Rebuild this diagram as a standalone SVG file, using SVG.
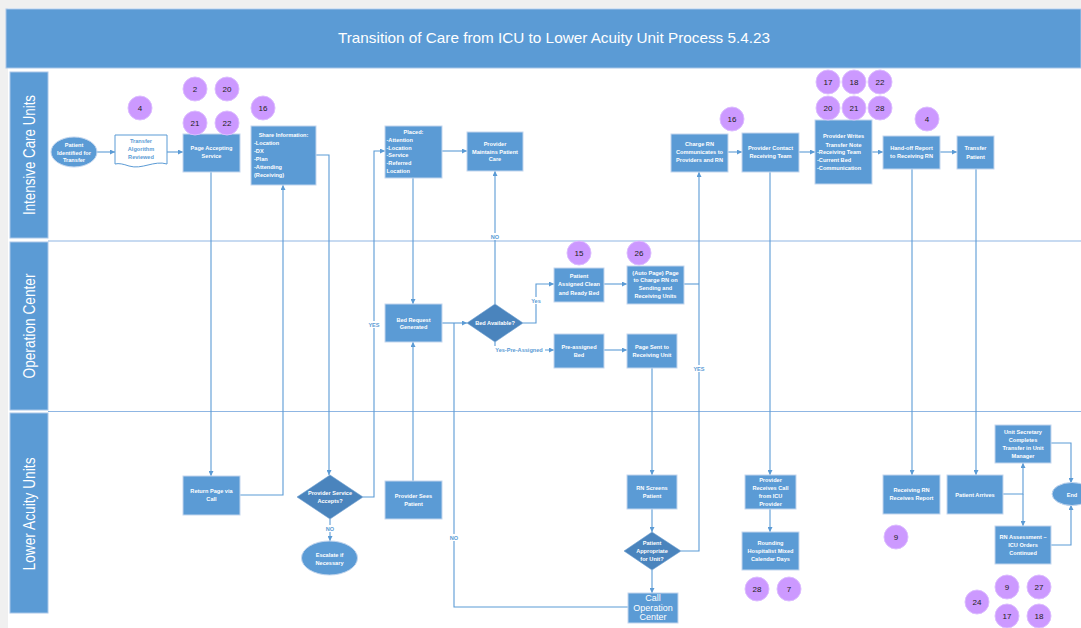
<svg xmlns="http://www.w3.org/2000/svg" width="1081" height="628" viewBox="0 0 1081 628">
<defs>
<marker id="ah" viewBox="0 0 10 10" refX="10" refY="5" markerWidth="5" markerHeight="5" orient="auto" markerUnits="userSpaceOnUse">
<path d="M0,0 L10,5 L0,10 z" fill="#5b9bd5"/>
</marker>
<style>
.lane{fill:#5b9bd5;stroke:#a9c6e8;stroke-width:1}
.laneT{font-family:"Liberation Sans",Arial,sans-serif;font-size:16px;fill:#fff;text-anchor:middle}
.box{fill:#5b9bd5;stroke:#c3d6ee;stroke-width:1}
.dia{fill:#4a84bd;stroke:#6f9fd0;stroke-width:0.6}
.badge{fill:#cc99ff;stroke:#dcbcff;stroke-width:1}
.bt{font-family:"Liberation Sans",Arial,sans-serif;font-size:8px;fill:#222;text-anchor:middle}
.t{font-family:"Liberation Sans",Arial,sans-serif;font-size:5.6px;font-weight:bold;fill:#fff;text-anchor:middle}
.tl{font-family:"Liberation Sans",Arial,sans-serif;font-size:5.6px;font-weight:bold;fill:#fff;text-anchor:start}
.tb{font-family:"Liberation Sans",Arial,sans-serif;font-size:5.6px;font-weight:bold;fill:#5b9bd5;text-anchor:middle}
.c{fill:none;stroke:#5b9bd5;stroke-width:1.1}
.ca{fill:none;stroke:#5b9bd5;stroke-width:1.1;marker-end:url(#ah)}
.ll{fill:none;stroke:#8fb6e3;stroke-width:1.2}
.lbl{font-family:"Liberation Sans",Arial,sans-serif;font-size:5.6px;font-weight:bold;fill:#5b9bd5;text-anchor:middle}
</style>
</defs>
<rect x="0" y="0" width="1081" height="628" fill="#ffffff"/>
<rect x="0" y="0" width="1081" height="8" fill="#f0f0f0"/>
<rect x="0" y="0" width="8" height="628" fill="#f0f0f0"/>
<g id="title">
<rect x="6" y="9" width="1075" height="59" fill="#5b9bd5" stroke="#a9c6e8" stroke-width="1"/>
<text x="554" y="43" font-family="'Liberation Sans',Arial,sans-serif" font-size="15" fill="#fff" text-anchor="middle" textLength="432" lengthAdjust="spacingAndGlyphs">Transition of Care from ICU to Lower Acuity Unit Process 5.4.23</text>
</g>
<g id="lanes">
<line class="ll" x1="48" y1="241" x2="1081" y2="241"/>
<line class="ll" x1="48" y1="411.5" x2="1081" y2="411.5"/>
<g id="lane-icu"><rect class="lane" x="10" y="72" width="38" height="166"/><text class="laneT" transform="translate(35,155) rotate(-90)" textLength="120" lengthAdjust="spacingAndGlyphs">Intensive Care Units</text></g>
<g id="lane-ops"><rect class="lane" x="10" y="242" width="38" height="168"/><text class="laneT" transform="translate(35,326) rotate(-90)" textLength="105" lengthAdjust="spacingAndGlyphs">Operation Center</text></g>
<g id="lane-lau"><rect class="lane" x="10" y="413" width="38" height="200"/><text class="laneT" transform="translate(35,514) rotate(-90)" textLength="113" lengthAdjust="spacingAndGlyphs">Lower Acuity Units</text></g>
</g>
<g id="connectors">
<path class="ca" d="M97,152 H115"/>
<path class="ca" d="M167,152 H183"/>
<path class="ca" d="M211,172 V476"/>
<path class="ca" d="M240,495 H283 V185"/>
<path class="ca" d="M316,155 H329 V475"/>
<path class="ca" d="M330,519 V541"/>
<path class="ca" d="M363,497 H374 V151 H385"/>
<path class="ca" d="M442,151 H467"/>
<path class="ca" d="M413,178 V304"/>
<path class="ca" d="M413,481 V342"/>
<path class="ca" d="M442,323 H467"/>
<path class="c" d="M628,607 H454 V323"/>
<path class="ca" d="M495,304 V171"/>
<path class="ca" d="M523,323 H536 V284 H554"/>
<path class="ca" d="M495,342 V350 H554"/>
<path class="ca" d="M604,284 H627"/>
<path class="c" d="M684,284 H699"/>
<path class="ca" d="M681,551 H699 V172"/>
<path class="ca" d="M604,350 H627"/>
<path class="ca" d="M652,368 V475"/>
<path class="ca" d="M652,509 V532"/>
<path class="ca" d="M652,570 V593"/>
<path class="ca" d="M728,152 H742"/>
<path class="ca" d="M799,152 H815"/>
<path class="ca" d="M872,152 H883"/>
<path class="ca" d="M940,152 H957"/>
<path class="ca" d="M770,172 V475"/>
<path class="ca" d="M770,509 V532"/>
<path class="ca" d="M912,169 V475"/>
<path class="ca" d="M976,169 V475"/>
<path class="ca" d="M1003,494 H1023 V463"/>
<path class="ca" d="M1023,494 V526"/>
<path class="ca" d="M1051,443 H1071 V483"/>
<path class="ca" d="M1051,545 H1071 V505"/>
<rect x="323" y="525" width="14" height="7" fill="#fff"/><text class="lbl" x="330" y="531">NO</text>
<rect x="366" y="321" width="16" height="7" fill="#fff"/><text class="lbl" x="374" y="327">YES</text>
<rect x="447" y="534" width="14" height="7" fill="#fff"/><text class="lbl" x="454" y="540">NO</text>
<rect x="488" y="233" width="14" height="7" fill="#fff"/><text class="lbl" x="495" y="239">NO</text>
<rect x="529" y="297" width="14" height="7" fill="#fff"/><text class="lbl" x="536" y="303">Yes</text>
<rect x="493" y="346" width="52" height="7" fill="#fff"/><text class="lbl" x="519" y="352">Yes-Pre-Assigned</text>
<rect x="691" y="365" width="16" height="7" fill="#fff"/><text class="lbl" x="699" y="371">YES</text>
</g>
<g id="n-patient-identified"><ellipse class="box" cx="74" cy="152" rx="23" ry="15"/><text class="t" x="74" y="147">Patient</text><text class="t" x="74" y="154.5">Identified for</text><text class="t" x="74" y="162">Transfer</text></g>
<g id="n-transfer-algorithm"><path d="M115,135 H167 V164 C154,160 142,170 129,166 C123,164 119,163 115,164 Z" fill="#fff" stroke="#5b9bd5" stroke-width="1"/><text class="tb" x="141" y="143">Transfer</text><text class="tb" x="141" y="151">Algorithm</text><text class="tb" x="141" y="159">Reviewed</text></g>
<g id="n-page-accepting"><rect class="box" x="183" y="134" width="57" height="38"/><text class="t" x="211.5" y="150">Page Accepting</text><text class="t" x="211.5" y="158">Service</text></g>
<g id="n-share-info"><rect class="box" x="251" y="126" width="65" height="59"/><text class="t" x="283.5" y="137">Share Information:</text><text class="tl" x="254" y="145">-Location</text><text class="tl" x="254" y="152.5">-DX</text><text class="tl" x="254" y="160.5">-Plan</text><text class="tl" x="254" y="169">-Attending</text><text class="tl" x="254" y="177">(Receiving)</text></g>
<g id="n-placed"><rect class="box" x="385" y="126" width="57" height="52"/><text class="t" x="413.5" y="134">Placed:</text><text class="tl" x="386.5" y="141.5">-Attention</text><text class="tl" x="386.5" y="149.5">-Location</text><text class="tl" x="386.5" y="157">-Service</text><text class="tl" x="386.5" y="165">-Referred</text><text class="tl" x="386.5" y="173">Location</text></g>
<g id="n-provider-maintains"><rect class="box" x="467" y="132" width="56" height="39"/><text class="t" x="495" y="145.5">Provider</text><text class="t" x="495" y="153.5">Maintains Patient</text><text class="t" x="495" y="161">Care</text></g>
<g id="n-charge-rn"><rect class="box" x="671" y="134" width="57" height="38"/><text class="t" x="699.5" y="146">Charge RN</text><text class="t" x="699.5" y="154">Communicates to</text><text class="t" x="699.5" y="161.5">Providers and RN</text></g>
<g id="n-provider-contact"><rect class="box" x="742" y="133" width="57" height="39"/><text class="t" x="770.5" y="150">Provider Contact</text><text class="t" x="770.5" y="158">Receiving Team</text></g>
<g id="n-provider-writes"><rect class="box" x="815" y="120" width="57" height="64"/><text class="t" x="843.5" y="138">Provider Writes</text><text class="t" x="843.5" y="146.5">Transfer Note</text><text class="tl" x="817" y="154">-Receiving Team</text><text class="tl" x="817" y="162">-Current Bed</text><text class="tl" x="817" y="170">-Communication</text></g>
<g id="n-handoff"><rect class="box" x="883" y="136" width="57" height="33"/><text class="t" x="911.5" y="150">Hand-off Report</text><text class="t" x="911.5" y="158">to Receiving RN</text></g>
<g id="n-transfer-patient"><rect class="box" x="957" y="136" width="37" height="33"/><text class="t" x="975.5" y="149.5">Transfer</text><text class="t" x="975.5" y="159">Patient</text></g>
<g id="n-bed-request"><rect class="box" x="385" y="304" width="57" height="38"/><text class="t" x="413.5" y="321.5">Bed Request</text><text class="t" x="413.5" y="329">Generated</text></g>
<g id="n-bed-available"><polygon class="dia" points="467,323 495,304 523,323 495,342"/><text class="t" x="495" y="325">Bed Available?</text></g>
<g id="n-patient-assigned"><rect class="box" x="554" y="268" width="50" height="34"/><text class="t" x="579" y="278">Patient</text><text class="t" x="579" y="286">Assigned Clean</text><text class="t" x="579" y="294.5">and Ready Bed</text></g>
<g id="n-auto-page"><rect class="box" x="627" y="266" width="57" height="38"/><text class="t" x="655.5" y="274.5">(Auto Page) Page</text><text class="t" x="655.5" y="282">to Charge RN on</text><text class="t" x="655.5" y="290">Sending and</text><text class="t" x="655.5" y="298">Receiving Units</text></g>
<g id="n-pre-assigned"><rect class="box" x="554" y="334" width="50" height="34"/><text class="t" x="579" y="349">Pre-assigned</text><text class="t" x="579" y="356.5">Bed</text></g>
<g id="n-page-sent"><rect class="box" x="627" y="334" width="50" height="34"/><text class="t" x="652" y="349">Page Sent to</text><text class="t" x="652" y="356.5">Receiving Unit</text></g>
<g id="n-return-page"><rect class="box" x="183" y="476" width="57" height="39"/><text class="t" x="211.5" y="493">Return Page via</text><text class="t" x="211.5" y="501">Call</text></g>
<g id="n-provider-accepts"><polygon class="dia" points="297,497 330,475 363,497 330,519"/><text class="t" x="330" y="495">Provider Service</text><text class="t" x="330" y="503">Accepts?</text></g>
<g id="n-escalate"><ellipse class="box" cx="329.5" cy="558" rx="28" ry="17"/><text class="t" x="329.5" y="557">Escalate if</text><text class="t" x="329.5" y="564.5">Necessary</text></g>
<g id="n-provider-sees"><rect class="box" x="385" y="481" width="57" height="38"/><text class="t" x="413.5" y="498">Provider Sees</text><text class="t" x="413.5" y="505.5">Patient</text></g>
<g id="n-rn-screens"><rect class="box" x="627" y="475" width="50" height="34"/><text class="t" x="652" y="490">RN Screens</text><text class="t" x="652" y="497.5">Patient</text></g>
<g id="n-patient-appropriate"><polygon class="dia" points="624,551 652,532 681,551 652,570"/><text class="t" x="652" y="545">Patient</text><text class="t" x="652" y="553">Appropriate</text><text class="t" x="652" y="560.5">for Unit?</text></g>
<g id="n-call-ops"><rect class="box" x="628" y="593" width="50" height="30"/><text x="653" y="600.5" font-family="'Liberation Sans',Arial,sans-serif" font-size="9" fill="#fff" text-anchor="middle">Call</text><text x="653" y="610.5" font-family="'Liberation Sans',Arial,sans-serif" font-size="9" fill="#fff" text-anchor="middle">Operation</text><text x="653" y="620" font-family="'Liberation Sans',Arial,sans-serif" font-size="9" fill="#fff" text-anchor="middle">Center</text></g>
<g id="n-provider-receives"><rect class="box" x="745" y="475" width="51" height="34"/><text class="t" x="770.5" y="482">Provider</text><text class="t" x="770.5" y="490">Receives Call</text><text class="t" x="770.5" y="498">from ICU</text><text class="t" x="770.5" y="506">Provider</text></g>
<g id="n-rounding"><rect class="box" x="742" y="532" width="57" height="38"/><text class="t" x="770.5" y="545">Rounding</text><text class="t" x="770.5" y="552.5">Hospitalist Mixed</text><text class="t" x="770.5" y="561">Calendar Days</text></g>
<g id="n-receiving-rn"><rect class="box" x="883" y="475" width="57" height="39"/><text class="t" x="911.5" y="492">Receiving RN</text><text class="t" x="911.5" y="500">Receives Report</text></g>
<g id="n-patient-arrives"><rect class="box" x="947" y="475" width="56" height="39"/><text class="t" x="975" y="496.5">Patient Arrives</text></g>
<g id="n-unit-secretary"><rect class="box" x="995" y="425" width="56" height="38"/><text class="t" x="1023" y="434">Unit Secretary</text><text class="t" x="1023" y="442">Completes</text><text class="t" x="1023" y="450">Transfer in Unit</text><text class="t" x="1023" y="458">Manager</text></g>
<g id="n-rn-assessment"><rect class="box" x="995" y="526" width="56" height="38"/><text class="t" x="1023" y="539">RN Assessment –</text><text class="t" x="1023" y="546.5">ICU Orders</text><text class="t" x="1023" y="554.5">Continued</text></g>
<g id="n-end"><ellipse class="box" cx="1072" cy="494" rx="20" ry="11.5"/><text class="t" x="1072" y="496.5">End</text></g>
<g id="badges">
<g id="b1"><circle class="badge" cx="140" cy="108" r="12"/><text class="bt" x="140" y="111">4</text></g>
<g id="b2"><circle class="badge" cx="195" cy="89" r="12"/><text class="bt" x="195" y="92">2</text></g>
<g id="b3"><circle class="badge" cx="227" cy="89" r="12"/><text class="bt" x="227" y="92">20</text></g>
<g id="b4"><circle class="badge" cx="195" cy="123" r="12"/><text class="bt" x="195" y="126">21</text></g>
<g id="b5"><circle class="badge" cx="227" cy="123" r="12"/><text class="bt" x="227" y="126">22</text></g>
<g id="b6"><circle class="badge" cx="263" cy="108" r="12"/><text class="bt" x="263" y="111">16</text></g>
<g id="b7"><circle class="badge" cx="732" cy="119" r="12"/><text class="bt" x="732" y="122">16</text></g>
<g id="b8"><circle class="badge" cx="828" cy="82" r="12"/><text class="bt" x="828" y="85">17</text></g>
<g id="b9"><circle class="badge" cx="854" cy="82" r="12"/><text class="bt" x="854" y="85">18</text></g>
<g id="b10"><circle class="badge" cx="880" cy="82" r="12"/><text class="bt" x="880" y="85">22</text></g>
<g id="b11"><circle class="badge" cx="828" cy="108" r="12"/><text class="bt" x="828" y="111">20</text></g>
<g id="b12"><circle class="badge" cx="854" cy="108" r="12"/><text class="bt" x="854" y="111">21</text></g>
<g id="b13"><circle class="badge" cx="880" cy="108" r="12"/><text class="bt" x="880" y="111">28</text></g>
<g id="b14"><circle class="badge" cx="927" cy="119" r="12"/><text class="bt" x="927" y="122">4</text></g>
<g id="b15"><circle class="badge" cx="579" cy="253" r="12"/><text class="bt" x="579" y="256">15</text></g>
<g id="b16"><circle class="badge" cx="639" cy="253" r="12"/><text class="bt" x="639" y="256">26</text></g>
<g id="b17"><circle class="badge" cx="757" cy="589" r="12"/><text class="bt" x="757" y="592">28</text></g>
<g id="b18"><circle class="badge" cx="789" cy="589" r="12"/><text class="bt" x="789" y="592">7</text></g>
<g id="b19"><circle class="badge" cx="896" cy="537" r="12"/><text class="bt" x="896" y="540">9</text></g>
<g id="b20"><circle class="badge" cx="1007" cy="587" r="12"/><text class="bt" x="1007" y="590">9</text></g>
<g id="b21"><circle class="badge" cx="1039" cy="587" r="12"/><text class="bt" x="1039" y="590">27</text></g>
<g id="b22"><circle class="badge" cx="977" cy="602" r="12"/><text class="bt" x="977" y="605">24</text></g>
<g id="b23"><circle class="badge" cx="1007" cy="616" r="12"/><text class="bt" x="1007" y="619">17</text></g>
<g id="b24"><circle class="badge" cx="1039" cy="616" r="12"/><text class="bt" x="1039" y="619">18</text></g>
</g>
</svg>
